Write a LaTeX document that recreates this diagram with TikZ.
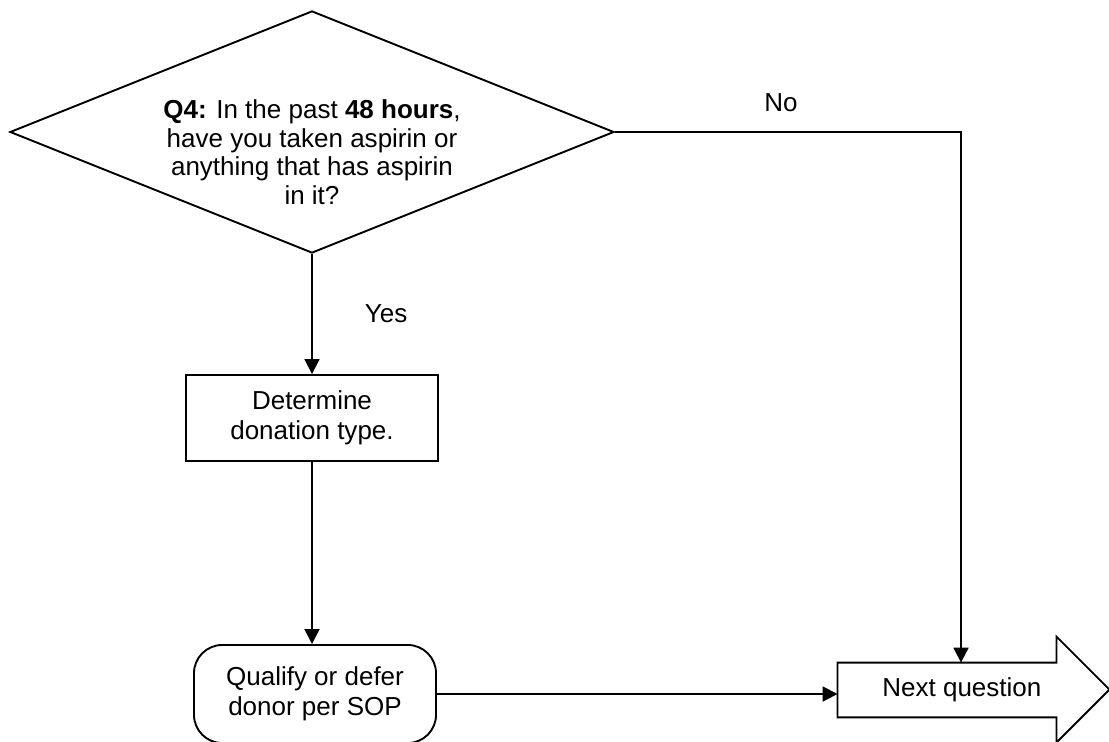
\documentclass[tikz,border=0pt]{standalone}
\usepackage{fontspec}
\setmainfont{Liberation Sans}
\usetikzlibrary{shapes.geometric, arrows.meta, positioning}

\begin{document}
\begin{tikzpicture}[x=0.423pt, y=-0.423pt,
            every node/.style={font=\fontsize{11}{12.7}\selectfont},
            decision/.style={draw, diamond, inner sep=0pt, minimum width=255.5pt, minimum height=102.4pt, line width=0.8pt},
            block/.style={draw, rectangle, align=center, minimum width=106.6pt, minimum height=36.4pt, line width=0.8pt},
            terminal/.style={draw, rectangle, rounded corners=12pt, align=center, minimum width=102.4pt, minimum height=41.5pt, line width=0.8pt},
            lbl/.style={inner sep=2pt},
            arrow/.style={-{Triangle[length=6.3pt, width=6.3pt]}, line width=0.8pt}]

            \useasboundingbox (0,0) rectangle (1109,741);
            \clip (0,0) rectangle (1109,741);

            \node[decision] (q4) at (312,132) {};
            \node[align=center, font=\fontsize{11}{12.2}\selectfont] (q4txt) at ([yshift=-8.5pt]q4.center) {\textbf{Q4:} In the past \textbf{48 hours},\\ have you taken aspirin or\\ anything that has aspirin\\ in it?};
            \node[block] (type) at (312,418) {Determine\\ donation type.};
            \node[terminal] (qualify) at (315,694) {Qualify or defer\\ donor per SOP};
            \node[minimum width=92.2pt, minimum height=22.8pt, inner sep=0pt] (next) at (947,690) {};
            \node (nexttxt) at ([xshift=6.3pt]next.center) {Next question};
            \coordinate (corner) at (961,132);

            % outline of the arrow shaped box
            \draw[line width=0.8pt] (next.north west) -- (next.north east) -- ++(0,-26) -- ++(53,53) -- ++(-53,53) -- (next.south east) -- (next.south west) -- cycle;

            \draw[arrow] (q4.south) -- node[lbl, right=20pt] {Yes} (type.north);
            \draw[arrow] (type.south) -- (type.south |- qualify.north);
            \draw[arrow] (qualify.east) -- (qualify.east -| next.west);
            \draw[arrow] (q4.east) -- node[lbl, above=6pt, xshift=-3pt] {No} (corner) -- (corner |- next.north);
        \end{tikzpicture}
\end{document}
